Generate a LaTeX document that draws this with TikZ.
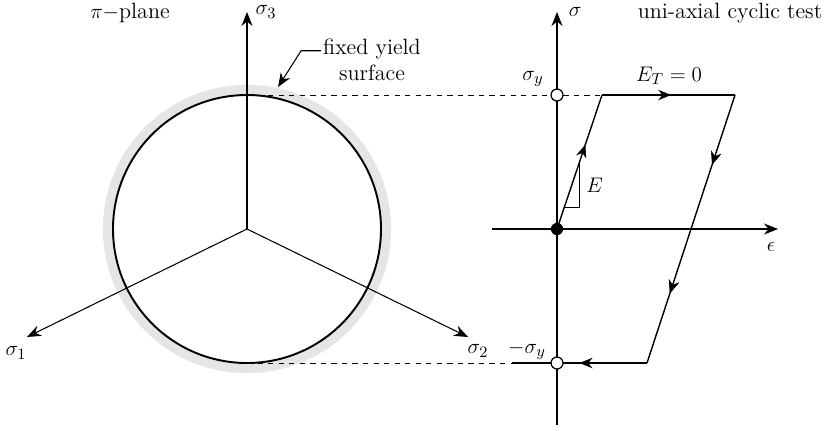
\documentclass[tikz,border=0pt]{standalone}
\usepackage{amsmath,amssymb}
\usepackage{tikz}
\usetikzlibrary{positioning, arrows.meta, calc, decorations.markings}

\begin{document}
\begin{tikzpicture}[
        x=0.02cm, y=-0.02cm,
        font=\fontsize{12.6}{15}\selectfont,
        axis/.style={line width=0.6pt, -{Stealth[length=2.8mm, width=2.2mm]}},
        ring/.style={line width=5.8pt, draw=black!10},
        surf/.style={line width=1.1pt},
        loopline/.style={line width=0.8pt},
        guide/.style={dashed, line width=0.5pt},
        midarr/.style={postaction={decorate}, decoration={markings,
            mark=at position #1 with {\arrow{Stealth[length=2.6mm, width=2.1mm]}}}},
        opendot/.style={circle, draw, fill=white, line width=0.7pt, inner sep=0pt, minimum size=6.8pt},
        fulldot/.style={circle, fill=black, inner sep=0pt, minimum size=7pt},
    ]
    \useasboundingbox (0,0) rectangle (830,430);

    % ---- pi-plane (left) ----
    \coordinate (O) at (247,229);
    \coordinate (s3) at (247,12);
    \coordinate (s1) at (27,337);
    \coordinate (s2) at (468,337);
    \coordinate (ctop) at (247,95);
    \coordinate (cbot) at (247,363);

    \draw[ring] (O) circle[radius=139];
    \draw[surf] (O) circle[radius=134];

    \draw[axis] (O) -- (s3);
    \draw[axis] (O) -- (s1);
    \draw[axis] (O) -- (s2);

    \node[right=0.05cm of s3] (s3-lbl) {$\sigma_3$};
    \node (s1-lbl) at (16,353) {$\sigma_1$};
    \node (s2-lbl) at (478,351) {$\sigma_2$};
    \node (pi-title) at (130,13) {$\pi-$plane};

    \node[align=center, inner sep=1pt] (fys) at (372,60) {fixed yield\\surface};
    \coordinate (lead) at ($(fys.north west)!0.3!(fys.south west)$);
    \coordinate (ring-pt) at (278,87);
    \draw[line width=0.6pt, -{Stealth[length=2.8mm, width=2.2mm]}] (lead) -- ++(-20,0) -- (ring-pt);

    % ---- uni-axial test (right) ----
    \coordinate (o) at (557,229);
    \coordinate (sig-top) at (557,12);
    \coordinate (sig-bot) at (557,425);
    \coordinate (eps-l) at (492,229);
    \coordinate (eps-r) at (778,229);
    \coordinate (sy) at (557,95);
    \coordinate (msy) at (557,363);
    \coordinate (A) at (602,95);
    \coordinate (B) at (735,95);
    \coordinate (C) at (647,363);
    \coordinate (Cl) at (512,363);

    \draw[line width=0.6pt] (o) -- (sig-bot);
    \draw[axis] (o) -- (sig-top);
    \draw[line width=0.6pt] (o) -- (eps-l);
    \draw[axis] (o) -- (eps-r);

    \draw[guide] (ctop) -- (A);
    \draw[guide] (cbot) -- (Cl);

    \draw[loopline, midarr=0.63] (o) -- (A);
    \draw[loopline, midarr=0.52] (A) -- (B);
    \draw[loopline, midarr=0.26, midarr=0.74] (B) -- (C);
    \draw[loopline, midarr=0.5] (C) -- (Cl);

    % slope triangle
    \coordinate (t1) at ($(o)!0.16!(A)$);
    \coordinate (t2) at ($(o)!0.49!(A)$);
    \draw[line width=0.6pt] (t1) -- (t1 -| t2) -- (t2);
    \node[right=0.02cm of {$(t1 -| t2)!0.5!(t2)$}] (E-lbl) {$E$};

    \node[opendot] (sy-dot) at (sy) {};
    \node[opendot] (msy-dot) at (msy) {};
    \node[fulldot] (o-dot) at (o) {};

    \node (sig-lbl) at (575,12) {$\sigma$};
    \node (eps-lbl) at (771,247) {$\epsilon$};
    \node (sy-lbl) at (533,79) {$\sigma_y$};
    \node (msy-lbl) at (527,350) {$-\sigma_y$};
    \node (ET-lbl) at (669,76) {$E_T=0$};
    \node (test-title) at (730,13) {uni-axial cyclic test};
\end{tikzpicture}
\end{document}
